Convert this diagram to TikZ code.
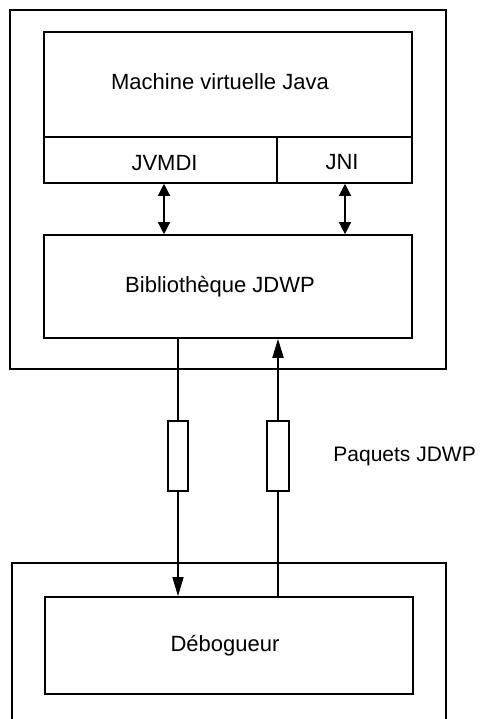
\documentclass[tikz,border=0pt]{standalone}
\usepackage{fontspec}
\setmainfont{Liberation Sans}
\usetikzlibrary{arrows.meta}
\begin{document}
\begin{tikzpicture}[x=1pt,y=-1pt,
  box/.style={draw,line width=1.6pt,rectangle,inner sep=0pt,anchor=center},
  pkt/.style={draw,line width=1.3pt,rectangle,inner sep=0pt},
  lbl/.style={font=\fontsize{22}{26}\selectfont,inner sep=0pt},
  wire/.style={line width=1.3pt},
  tip/.style={-{Triangle[length=19pt,width=11pt]}},
  dtip/.style={{Triangle[length=12pt,width=12pt]}-{Triangle[length=12pt,width=12pt]}}]
\useasboundingbox (0,0) rectangle (479,719);
\clip (0,0) rectangle (479,719);
% outer host box
\node[box,minimum width=436pt,minimum height=359pt] (host) at (228,189.5) {};
\node[box,minimum width=368pt,minimum height=151pt] (vm) at (228,107.5) {};
\node[lbl] (vmt) at (220,82) {Machine virtuelle Java};
\node[box,minimum width=233pt,minimum height=46pt] (jvmdi) at (160.5,160) {};
\node[box,minimum width=135pt,minimum height=46pt] (jni) at (344.5,160) {};
\node[lbl] (jvmdit) at (164.5,163) {JVMDI};
\node[lbl] (jnit) at (342,162) {JNI};
\node[box,minimum width=368pt,minimum height=103pt] (jdwp) at (228,286.5) {};
\node[lbl] (jdwpt) at (220,287) {Bibliothèque JDWP};
% packets
\node[pkt,minimum width=20pt,minimum height=70pt] (p1) at (178,456) {};
\node[pkt,minimum width=22pt,minimum height=70pt] (p2) at (278,456) {};
\node[lbl,anchor=east,font=\fontsize{21}{25}\selectfont] (pq) at (476,456) {Paquets JDWP};
% debugger
\node[box,minimum width=434pt,minimum height=220pt] (dhost) at (229,673) {};
\node[box,minimum width=368pt,minimum height=97pt] (dbg) at (229,645.5) {};
\node[lbl] (dbgt) at (225,646) {Débogueur};
% connectors
\coordinate (a1) at (164,0);
\coordinate (a2) at (345,0);
\draw[wire,dtip] (jvmdi.south -| a1) -- (jdwp.north -| a1);
\draw[wire,dtip] (jni.south -| a2) -- (jdwp.north -| a2);
\draw[wire] (jdwp.south -| p1) -- (p1.north);
\draw[wire,tip] (p1.south) -- (dbg.north -| p1);
\draw[wire] (dbg.north -| p2) -- (p2.south);
\draw[line width=1.8pt,tip] (p2.north) -- (jdwp.south -| p2);
\end{tikzpicture}
\end{document}
